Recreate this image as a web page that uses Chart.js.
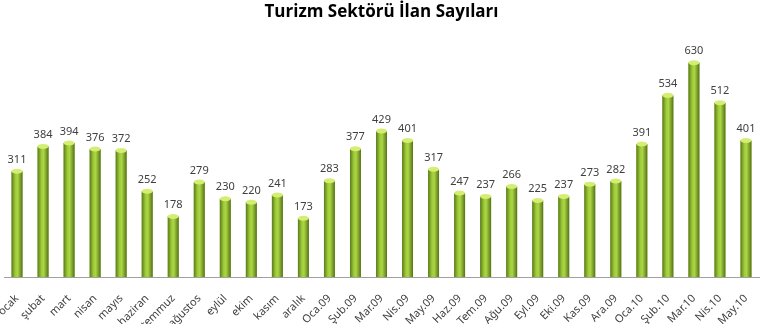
<!DOCTYPE html>
<html>
<head>
<meta charset="utf-8">
<script src="https://cdn.jsdelivr.net/npm/chart.js@4/dist/chart.umd.min.js"></script>
<style>
  html, body { margin: 0; padding: 0; background: #fff; }
  #wrap { width: 760px; height: 324px; }
</style>
</head>
<body>
<div id="wrap"><canvas id="ilanChart"></canvas></div>
<script>
// data
const months = ['ocak', 'şubat', 'mart', 'nisan', 'mayıs', 'haziran', 'temmuz', 'ağustos',
  'eylül', 'ekim', 'kasım', 'aralık', 'Oca.09', 'Şub.09', 'Mar.09', 'Nis.09', 'May.09',
  'Haz.09', 'Tem.09', 'Ağu.09', 'Eyl.09', 'Eki.09', 'Kas.09', 'Ara.09', 'Oca.10',
  'Şub.10', 'Mar.10', 'Nis.10', 'May.10'];
const ilanSayisi = [311, 384, 394, 376, 372, 252, 178, 279, 230, 220, 241, 173, 283,
  377, 429, 401, 317, 247, 237, 266, 225, 237, 273, 282, 391, 534, 630, 512, 401];
const chartTitle = 'Turizm Sektörü İlan Sayıları';

// cylinder look + value labels on top of each bar
const cylinderPlugin = {
  id: 'cylinder',
  afterDatasetsDraw(chart) {
    const ctx = chart.ctx;
    const meta = chart.getDatasetMeta(0);
    ctx.save();
    meta.data.forEach((bar, i) => {
      const w = bar.width, left = bar.x - w / 2;
      const g = ctx.createLinearGradient(left, 0, left + w, 0);
      g.addColorStop(0, '#5a7a1c');
      g.addColorStop(0.35, '#9fcb38');
      g.addColorStop(0.55, '#acd644');
      g.addColorStop(1, '#557317');
      ctx.fillStyle = g;
      ctx.fillRect(left, bar.y, w, bar.base - bar.y);
      // top cap
      ctx.beginPath();
      ctx.ellipse(bar.x, bar.y, w / 2, 2.5, 0, 0, Math.PI * 2);
      ctx.fillStyle = '#d4ee74';
      ctx.fill();
      // value
      ctx.fillStyle = '#404040';
      ctx.font = '11px "Noto Sans"';
      ctx.textAlign = 'center';
      ctx.textBaseline = 'bottom';
      ctx.fillText(ilanSayisi[i], bar.x, bar.y - 6);
    });
    ctx.restore();
  }
};

new Chart(document.getElementById('ilanChart').getContext('2d'), {
  type: 'bar',
  data: {
    labels: months,
    datasets: [{
      label: 'İlan',
      data: ilanSayisi,
      backgroundColor: '#8fbf2e',
      barPercentage: 0.42,
      categoryPercentage: 1
    }]
  },
  options: {
    responsive: true,
    maintainAspectRatio: false,
    animation: false,
    layout: { padding: { left: 4, right: 1, top: 0, bottom: 0 } },
    plugins: {
      legend: { display: false },
      tooltip: { enabled: false },
      title: {
        display: true,
        text: chartTitle,
        color: '#000',
        font: { family: 'Open Sans', size: 17, weight: 'bold' },
        padding: { top: 2, bottom: 16.5 }
      }
    },
    scales: {
      y: { display: false, min: 0, max: 700 },
      x: {
        grid: { display: false },
        border: { display: true, color: '#a0a0a0', width: 1 },
        ticks: {
          color: '#404040',
          font: { family: 'Noto Sans', size: 11 },
          minRotation: 45,
          maxRotation: 45,
          autoSkip: false,
          padding: 7
        },
        afterFit(scale) {
          scale.paddingLeft = 0;
          scale.paddingRight = 0;
          scale.height = 47;
        }
      }
    }
  },
  plugins: [cylinderPlugin]
});
</script>
</body>
</html>
